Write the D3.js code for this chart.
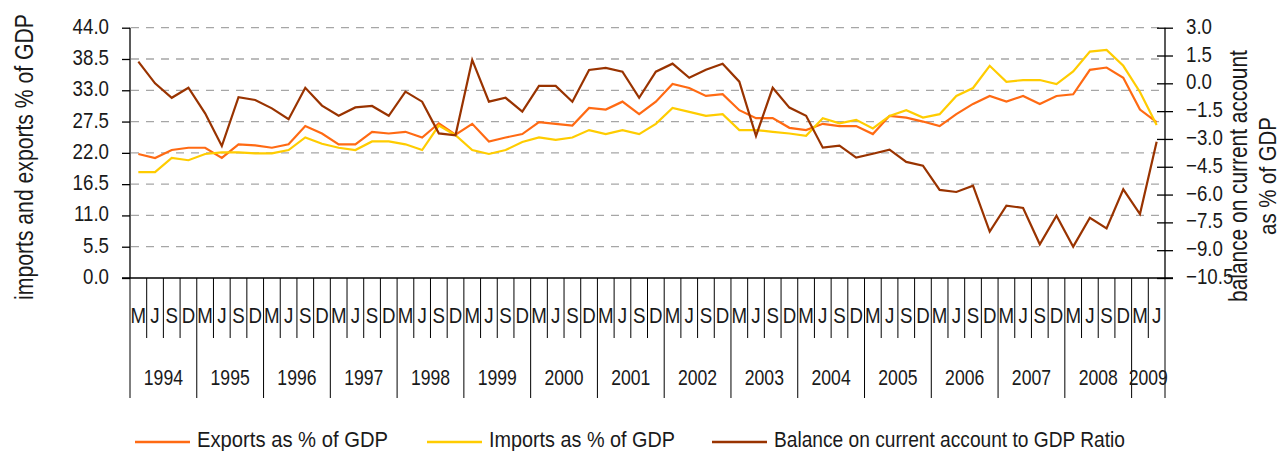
<!DOCTYPE html>
<html>
<head>
<meta charset="utf-8">
<script src="https://cdn.jsdelivr.net/npm/d3@7/dist/d3.min.js"></script>
<style>
   body { margin: 0; background: #fff; }
   svg text { font-family: "Liberation Sans", Arial, sans-serif; fill: #1a1a1a; }
</style>
</head>
<body>
<svg id="chart" width="1283" height="451"></svg>
<script>
// quarter letters and years on the category axis
var quarterLetters = ['M', 'J', 'S', 'D'];
var years = [1994, 1995, 1996, 1997, 1998, 1999, 2000, 2001, 2002, 2003, 2004, 2005, 2006, 2007, 2008, 2009];

// left axis ticks (imports / exports) and right axis ticks (balance)
var leftTicks = [0, 5.5, 11, 16.5, 22, 27.5, 33, 38.5, 44];
var rightTicks = [-10.5, -9, -7.5, -6, -4.5, -3, -1.5, 0, 1.5, 3];

// quarterly values, March 1994 to June 2009
var exportsPct = [21.8, 21.1, 22.5, 22.9, 22.9, 21.1, 23.5, 23.3, 22.9, 23.5,
   26.7, 25.4, 23.5, 23.5, 25.7, 25.4, 25.7, 24.7, 27.2, 25.2,
   27.1, 24.0, 24.7, 25.3, 27.4, 27.1, 26.8, 29.9, 29.6, 31.0,
   28.8, 31.0, 34.1, 33.4, 32.0, 32.3, 29.5, 28.1, 28.1, 26.4,
   26.0, 27.1, 26.7, 26.7, 25.3, 28.5, 28.2, 27.5, 26.7, 28.8,
   30.6, 32.0, 31.0, 32.0, 30.6, 32.0, 32.3, 36.6, 37.0, 35.2,
   29.6, 27.4];

var importsPct = [18.6, 18.6, 21.1, 20.7, 21.8, 22.1, 22.1, 21.9, 21.9, 22.5,
   24.7, 23.6, 22.9, 22.5, 24.0, 24.0, 23.5, 22.5, 26.8, 25.1,
   22.5, 21.8, 22.5, 23.9, 24.7, 24.3, 24.7, 26.0, 25.3, 26.0,
   25.3, 27.1, 29.9, 29.2, 28.5, 28.8, 26.0, 26.0, 25.7, 25.4,
   25.0, 28.1, 27.2, 27.8, 26.3, 28.5, 29.5, 28.2, 28.8, 32.0,
   33.4, 37.3, 34.5, 34.8, 34.8, 34.1, 36.3, 39.8, 40.1, 37.3,
   32.7, 26.9];

var balancePct = [1.17, 0.0, -0.78, -0.24, -1.62, -3.38, -0.75, -0.9, -1.35, -1.94,
   -0.24, -1.2, -1.75, -1.3, -1.22, -1.75, -0.45, -0.99, -2.7, -2.8,
   1.26, -0.99, -0.78, -1.53, -0.14, -0.14, -0.99, 0.72, 0.83, 0.63,
   -0.78, 0.63, 1.06, 0.3, 0.73, 1.06, 0.09, -2.84, -0.24, -1.31,
   -1.75, -3.47, -3.36, -4.01, -3.8, -3.58, -4.24, -4.44, -5.75, -5.86,
   -5.52, -8.0, -6.6, -6.72, -8.68, -7.14, -8.81, -7.25, -7.82, -5.72,
   -7.05, -3.15];

var seriesNames = ['Exports as %  of GDP', 'Imports as %  of GDP', 'Balance on current account to GDP Ratio'];
var seriesColors = ['#ff6a13', '#ffcc00', '#993300'];

// build the category list: year + quarter letter
var categories = [];
years.forEach(function (year) {
   quarterLetters.forEach(function (q) {
      if (year < 2009 || q === 'M' || q === 'J') categories.push({year: year, q: q, key: year + q});
   });
});

// no narrow font installed: squeeze glyphs along the baseline
function squeeze(selection, factor) {
   selection.each(function () {
      var w = this.getComputedTextLength();
      this.setAttribute('textLength', w * factor);
      this.setAttribute('lengthAdjust', 'spacingAndGlyphs');
   });
}

// rotated titles: squeeze with a transform so the box shrinks as well
function rotatedTitle(cx, cy, size, length, label) {
   var t = svg.append('text')
      .attr('text-anchor', 'middle')
      .attr('font-size', size)
      .text(label);
   var k = length / t.node().getComputedTextLength();
   t.attr('transform', 'translate(' + cx + ',' + cy + ') rotate(-90) scale(' + k + ',1)');
   return t;
}

var svg = d3.select('#chart');

var bounds = {left: 130, right: 1165, top: 27.7, bottom: 278};

var x = d3.scaleBand()
   .domain(categories.map(function (d) { return d.key; }))
   .range([bounds.left, bounds.right]);

var yLeft = d3.scaleLinear().domain([0, 44]).range([bounds.bottom, bounds.top]);
var yRight = d3.scaleLinear().domain([-10.5, 3]).range([bounds.bottom, bounds.top]);

// dashed grid on the left ticks
svg.append('g')
   .selectAll('line')
   .data(leftTicks.filter(function (t) { return t > 0; }))
   .enter().append('line')
   .attr('x1', bounds.left + 1)
   .attr('x2', bounds.right)
   .attr('y1', function (d) { return yLeft(d); })
   .attr('y2', function (d) { return yLeft(d); })
   .attr('stroke', '#a6a6a6')
   .attr('stroke-width', 1.3)
   .attr('stroke-dasharray', '8,7');

// left axis
var leftAxis = svg.append('g')
   .attr('transform', 'translate(' + bounds.left + ',0)')
   .call(d3.axisLeft(yLeft).tickValues(leftTicks).tickFormat(d3.format('.1f')).tickSize(8).tickPadding(13));

// right axis
var rightAxis = svg.append('g')
   .attr('transform', 'translate(' + bounds.right + ',0)')
   .call(d3.axisRight(yRight).tickValues(rightTicks).tickFormat(d3.format('.1f')).tickSize(8).tickPadding(13));

rightAxis.selectAll('.tick line').attr('x1', -8);

[leftAxis, rightAxis].forEach(function (axis) {
   axis.select('.domain').remove();
   axis.selectAll('.tick line').attr('stroke', '#000').attr('stroke-width', 1.3);
   axis.selectAll('.tick text')
      .attr('font-size', 22)
      .attr('dy', '0.25em')
      .attr('fill', '#1a1a1a')
      .call(squeeze, 0.85);
});

// axis lines
svg.append('line')
   .attr('x1', bounds.left).attr('x2', bounds.left)
   .attr('y1', bounds.top).attr('y2', bounds.bottom)
   .attr('stroke', '#000').attr('stroke-width', 1.3);
svg.append('line')
   .attr('x1', bounds.right).attr('x2', bounds.right)
   .attr('y1', bounds.top).attr('y2', bounds.bottom)
   .attr('stroke', '#000').attr('stroke-width', 1.3);
svg.append('line')
   .attr('x1', bounds.left - 8).attr('x2', bounds.right + 8)
   .attr('y1', bounds.bottom).attr('y2', bounds.bottom)
   .attr('stroke', '#000').attr('stroke-width', 1.3);

// category axis: separators between quarters, longer between years
var catGroup = svg.append('g');

catGroup.selectAll('line.q')
   .data(categories)
   .enter().append('line')
   .attr('class', 'q')
   .attr('x1', function (d) { return x(d.key); })
   .attr('x2', function (d) { return x(d.key); })
   .attr('y1', bounds.bottom)
   .attr('y2', function (d) { return d.q === 'M' ? bounds.bottom + 120 : bounds.bottom + 60; })
   .attr('stroke', '#000')
   .attr('stroke-width', 1);

catGroup.append('line')
   .attr('x1', bounds.right).attr('x2', bounds.right)
   .attr('y1', bounds.bottom).attr('y2', bounds.bottom + 120)
   .attr('stroke', '#000')
   .attr('stroke-width', 1);

catGroup.selectAll('text.q')
   .data(categories)
   .enter().append('text')
   .attr('class', 'q')
   .attr('x', function (d) { return x(d.key) + x.bandwidth() / 2; })
   .attr('y', bounds.bottom + 45)
   .attr('text-anchor', 'middle')
   .attr('font-size', 22)
   .text(function (d) { return d.q; })
   .call(squeeze, 0.85);

catGroup.selectAll('text.year')
   .data(years)
   .enter().append('text')
   .attr('class', 'year')
   .attr('x', function (year) {
      var inYear = categories.filter(function (d) { return d.year === year; });
      var x0 = x(inYear[0].key), x1 = x(inYear[inYear.length - 1].key) + x.bandwidth();
      return (x0 + x1) / 2;
   })
   .attr('y', bounds.bottom + 107)
   .attr('text-anchor', 'middle')
   .attr('font-size', 22)
   .text(function (d) { return d; })
   .call(squeeze, 0.8);

// series lines
var series = [
   {values: exportsPct, scale: yLeft},
   {values: importsPct, scale: yLeft},
   {values: balancePct, scale: yRight}
];

series.forEach(function (s, i) {
   var line = d3.line()
      .x(function (d, j) { return x(categories[j].key) + x.bandwidth() / 2; })
      .y(function (d) { return s.scale(d); });

   svg.append('path')
      .datum(s.values)
      .attr('fill', 'none')
      .attr('stroke', seriesColors[i])
      .attr('stroke-width', 2.2)
      .attr('stroke-linejoin', 'miter')
      .attr('d', line);
});

// axis titles
rotatedTitle(33, 157, 25, 286, 'imports and exports % of GDP');
rotatedTitle(1247, 176, 25, 252, 'balance on current account');
rotatedTitle(1276, 176, 23, 118, 'as % of GDP');

// legend
var legendX = [135, 427, 712];
var legendTextLength = [191, 186, 351];

var legendItem = svg.append('g')
   .selectAll('g')
   .data(seriesNames)
   .enter().append('g')
   .attr('transform', function (d, i) { return 'translate(' + legendX[i] + ',442)'; });

legendItem.append('line')
   .attr('x1', 0).attr('x2', 55)
   .attr('stroke', function (d, i) { return seriesColors[i]; })
   .attr('stroke-width', 2.5);

legendItem.append('text')
   .attr('x', 62)
   .attr('y', 5)
   .attr('font-size', 22)
   .attr('textLength', function (d, i) { return legendTextLength[i]; })
   .attr('lengthAdjust', 'spacingAndGlyphs')
   .text(function (d) { return d; });
</script>
</body>
</html>
